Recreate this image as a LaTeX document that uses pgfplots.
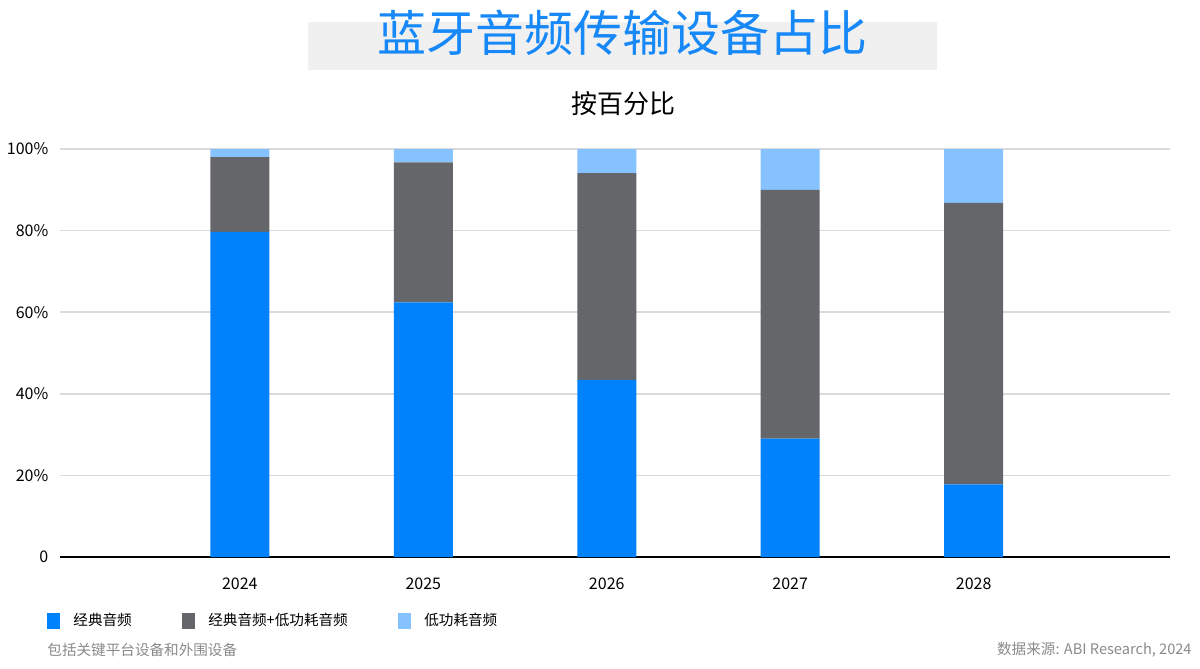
\documentclass[border=0pt]{standalone}
\usepackage{pgfplots}
\pgfplotsset{compat=1.18}
\usepackage{fontspec}
\setmainfont{Noto Sans CJK SC}

\definecolor{cblue}{HTML}{0082FC}
\definecolor{cgrey}{HTML}{65666A}
\definecolor{clight}{HTML}{85C2FF}
\definecolor{titleblue}{HTML}{1688F7}
\definecolor{titlebg}{HTML}{F0F0F0}
\definecolor{gridgrey}{HTML}{DADADA}
\definecolor{notegrey}{HTML}{8A8A8A}

\begin{document}
\begin{tikzpicture}
\path[use as bounding box] (0,0) rectangle (600pt,-334.5pt);
% title
\fill[titlebg] (154pt,-11pt) rectangle (468.5pt,-35pt);
\node[text=titleblue, font=\fontsize{24.5}{24.5}\selectfont] at (311pt,-16.5pt) {蓝牙音频传输设备占比};
\node[font=\fontsize{13}{13}\selectfont] at (311.5pt,-52pt) {按百分比};

\begin{axis}[
    at={(30pt,-278.5pt)}, anchor=south west,
    scale only axis,
    width=555pt, height=204pt,
    ybar stacked, bar width=29.5pt,
    xmin=-0.98, xmax=5.07,
    ymin=0, ymax=100,
    xtick={0,1,2,3,4},
    xticklabels={2024,2025,2026,2027,2028},
    ytick={0,20,40,60,80,100},
    yticklabels={0,20\%,40\%,60\%,80\%,100\%},
    ymajorgrids,
    grid style={gridgrey, line width=0.75pt},
    axis x line*=bottom, axis y line*=left,
    separate axis lines,
    x axis line style={black, line width=1pt, -},
    y axis line style={draw=none},
    major tick length=0pt,
    tick label style={font=\fontsize{8}{8}\selectfont, /pgf/number format/assume math mode=true},
    yticklabel style={xshift=-2.3pt},
    xticklabel style={yshift=-6.8pt},
    legend columns=3,
    legend style={draw=none, fill=none, at={(-0.0117,-0.157)}, anchor=west,
        inner sep=0pt, font=\fontsize{7.3}{7.3}\selectfont,
        nodes={inner xsep=3.25pt},
        /tikz/every even column/.append style={column sep=22pt}},
    legend image code/.code={\fill[#1] (0pt,-4pt) rectangle (6.5pt,4pt); \path (9.75pt,0pt);},
]
\addplot[fill=cblue, draw=none] coordinates {(0,79.7) (1,62.4) (2,43.4) (3,29.0) (4,17.8)};
\addplot[fill=cgrey, draw=none] coordinates {(0,18.3) (1,34.3) (2,50.7) (3,61.0) (4,69.0)};
\addplot[fill=clight, draw=none] coordinates {(0,2.0) (1,3.3) (2,5.9) (3,10.0) (4,13.2)};
\legend{经典音频, 经典音频+低功耗音频, 低功耗音频}
\end{axis}

\node[anchor=west, inner sep=0pt, text=notegrey, font=\fontsize{7.3}{7.3}\selectfont] at (23.5pt,-325pt) {包括关键平台设备和外围设备};
\node[anchor=east, inner sep=0pt, text=notegrey, font=\fontsize{7.3}{7.3}\selectfont] at (596pt,-325pt) {数据来源: ABI Research, 2024};
\end{tikzpicture}
\end{document}
